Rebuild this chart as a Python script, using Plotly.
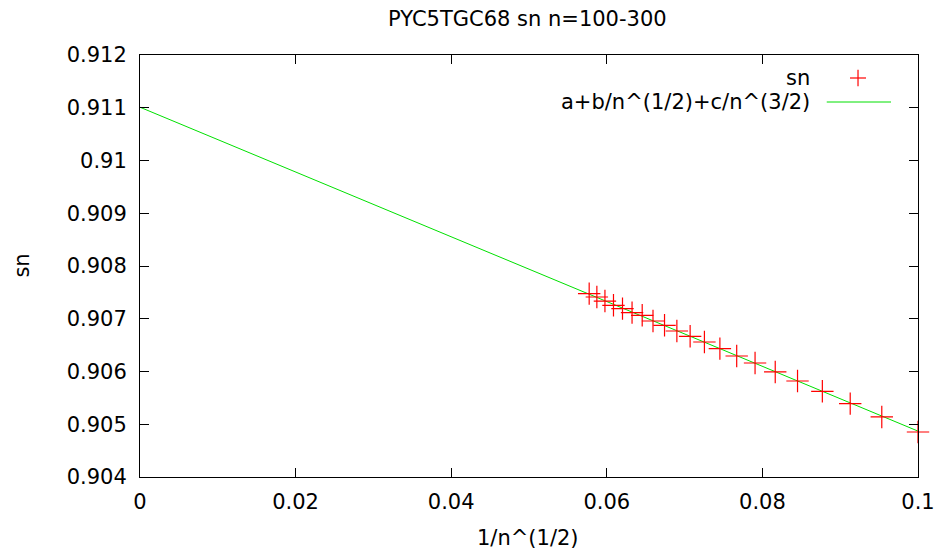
import numpy as np
import plotly.graph_objects as go

# measured data: n = 100..300 step 10, x = 1/sqrt(n)
n_vals = [100, 110, 120, 130, 140, 150, 160, 170, 180, 190, 200,
          210, 220, 230, 240, 250, 260, 270, 280, 290, 300]
sn_vals = [0.904853, 0.905138, 0.905391, 0.905625, 0.905820, 0.905991,
           0.906161, 0.906294, 0.906434, 0.906559, 0.906667, 0.906768,
           0.906876, 0.906957, 0.907065, 0.907117, 0.907192, 0.907255,
           0.907336, 0.907412, 0.907477]

# fit parameters for a+b/n^(1/2)+c/n^(3/2)
fit_a = 0.91101
fit_b = -0.0614
fit_c = 0.0

x_ticks = [0, 0.02, 0.04, 0.06, 0.08, 0.1]
x_tick_text = ["0", "0.02", "0.04", "0.06", "0.08", "0.1"]
y_ticks = [0.904, 0.905, 0.906, 0.907, 0.908, 0.909, 0.91, 0.911, 0.912]
y_tick_text = ["0.904", "0.905", "0.906", "0.907", "0.908", "0.909", "0.91", "0.911", "0.912"]

x_pts = [1 / np.sqrt(n) for n in n_vals]
x_fit = np.linspace(0, 0.1, 200)
y_fit = fit_a + fit_b * x_fit + fit_c * x_fit ** 3

fig = go.Figure()
fig.add_trace(go.Scatter(x=x_fit, y=y_fit, mode="lines",
                         line=dict(color="#00e000", width=1), showlegend=False))
fig.add_trace(go.Scatter(x=x_pts, y=sn_vals, mode="markers", cliponaxis=False,
                         marker=dict(symbol="cross-thin", size=16,
                                     line=dict(color="#ff0000", width=1.2)),
                         showlegend=False))

font = "DejaVu Sans, sans-serif"
fsize = 21
axis_common = dict(showgrid=False, zeroline=False, showline=True, mirror="allticks",
                   linecolor="black", linewidth=1, ticks="inside", ticklen=9,
                   tickcolor="black", automargin=False,
                   tickfont=dict(size=fsize, color="black", family=font))

# page body has an 8px margin, so the margins are shifted by that
fig.update_layout(
    width=942, height=556,
    paper_bgcolor="white", plot_bgcolor="white",
    margin=dict(l=131.5, r=32, t=46.7, b=87.3),
    font=dict(family=font, color="black"),
    xaxis=dict(range=[0, 0.1], tickvals=x_ticks, ticktext=x_tick_text,
               ticklabelstandoff=6, **axis_common),
    yaxis=dict(range=[0.904, 0.912], tickvals=y_ticks, ticktext=y_tick_text,
               ticklabelstandoff=8, **axis_common),
)

def ann(x, y, text, anchor="center", size=fsize, angle=0):
    fig.add_annotation(xref="paper", yref="paper", x=x, y=y, text=text, textangle=angle,
                       showarrow=False, xanchor=anchor, yanchor="middle",
                       font=dict(size=size, family=font, color="black"))

ann(0.4984, 1.085, "PYC5TGC68 sn n=100-300", size=21)
ann(0.499, -0.1453, "1/n^(1/2)")
ann(-0.1513, 0.5017, "sn", angle=-90)

# gnuplot-style legend: text on left, sample on right
ann(0.8635, 0.9455, "sn", anchor="right")
ann(0.8635, 0.8886, "a+b/n^(1/2)+c/n^(3/2)", anchor="right")
fig.add_shape(type="line", xref="paper", yref="paper", x0=0.9126, x1=0.9332, y0=0.9455, y1=0.9455,
              line=dict(color="#ff0000", width=1.2))
fig.add_shape(type="line", xref="paper", yref="paper", x0=0.9229, x1=0.9229, y0=0.926, y1=0.965,
              line=dict(color="#ff0000", width=1.2))
fig.add_shape(type="line", xref="paper", yref="paper", x0=0.8827, x1=0.9653, y0=0.8886, y1=0.8886,
              line=dict(color="#00e000", width=1))

fig.write_html("out.html")
